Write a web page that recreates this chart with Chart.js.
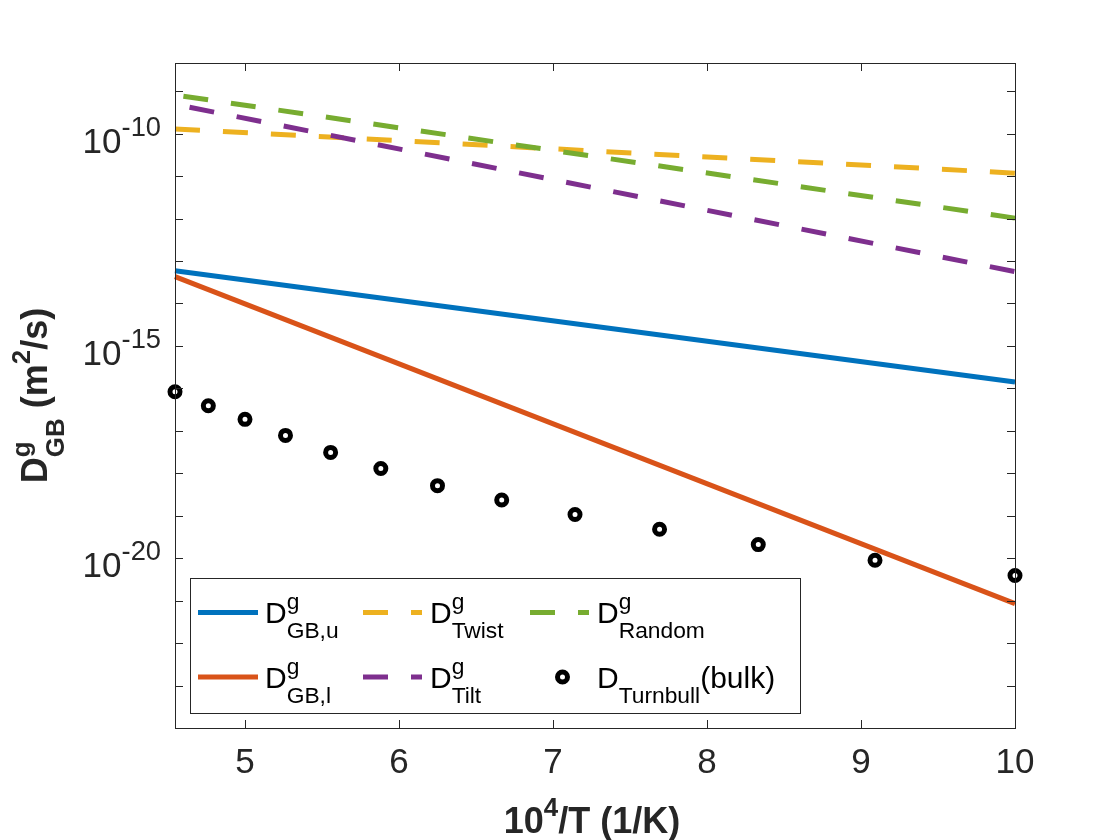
<!DOCTYPE html>
<html>
<head>
<meta charset="utf-8">
<script src="https://cdn.jsdelivr.net/npm/chart.js@4.4.0/dist/chart.umd.min.js"></script>
<style>
    html, body { margin: 0; padding: 0; background: #fff; }
    #wrap { width: 1120px; height: 840px; }
</style>
</head>
<body>
<div id="wrap"><canvas id="chart" width="1120" height="840"></canvas></div>
<script>
// axis ranges and ticks
const X_MIN = 4.5455;
const X_MAX = 10;
const Y_MIN = 1e-24;
const Y_MAX = 4.6e-9;
const X_TICKS = [5, 6, 7, 8, 9, 10];
const Y_TICK_EXP = [-24, -23, -22, -21, -20, -19, -18, -17, -16, -15, -14, -13, -12, -11, -10, -9];
const Y_LABEL_EXP = [-10, -15, -20];

// Arrhenius lines (end points), x = 10^4/T
const gbUpperX = [4.5455, 10];
const gbUpperY = [5.9e-14, 1.41e-16];
const gbLowerX = [4.5455, 10];
const gbLowerY = [4.27e-14, 8.5e-22];
const twistX = [4.5455, 10];
const twistY = [1.29e-10, 1.17e-11];
const randomX = [4.6, 10];
const randomY = [7.6e-10, 1.02e-12];
const tiltX = [4.64, 10];
const tiltY = [4.17e-10, 5.6e-14];

// Turnbull bulk values
const turnbullX = [4.5455, 4.762, 5.0, 5.263, 5.556, 5.882, 6.25, 6.667, 7.143, 7.692, 8.333, 9.091, 10];
const turnbullY = [8.3e-17, 3.9e-17, 1.86e-17, 7.8e-18, 3.1e-18, 1.29e-18, 5.1e-19, 2.34e-19, 1.07e-19, 4.8e-20, 2.09e-20, 8.9e-21, 3.9e-21];

const COLORS = {
    blue: '#0072BD',
    orange: '#D95319',
    yellow: '#EDB120',
    purple: '#7E2F8E',
    green: '#77AC30',
    axis: '#262626'
};

const FONT = '"Liberation Sans", Arial, Helvetica, sans-serif';

const toPoints = (xs, ys) => xs.map((x, i) => ({ x, y: ys[i] }));

// plotting order as in the original figure
const series = [
    { label: 'D GB,u', x: gbUpperX, y: gbUpperY, color: COLORS.blue, dash: [] },
    { label: 'D Twist', x: twistX, y: twistY, color: COLORS.yellow, dash: [25, 23] },
    { label: 'D Random', x: randomX, y: randomY, color: COLORS.green, dash: [25, 23] },
    { label: 'D GB,l', x: gbLowerX, y: gbLowerY, color: COLORS.orange, dash: [] },
    { label: 'D Tilt', x: tiltX, y: tiltY, color: COLORS.purple, dash: [25, 23] }
];

const datasets = series.map((s, i) => ({
    label: s.label,
    data: toPoints(s.x, s.y),
    showLine: true,
    borderColor: s.color,
    borderWidth: 5,
    borderDash: s.dash,
    borderCapStyle: 'butt',
    pointRadius: 0,
    fill: false,
    clip: false,
    order: 10 - i
}));

datasets.push({
    label: 'D Turnbull (bulk)',
    data: toPoints(turnbullX, turnbullY),
    showLine: false,
    pointStyle: 'circle',
    pointRadius: 5,
    pointBorderWidth: 5,
    pointBackgroundColor: '#ffffff',
    pointBorderColor: '#000000',
    clip: false,
    order: 0
});

// legend entries: [column, row, dataset index, rich text parts]
const LEGEND_ITEMS = [
    [0, 0, 0, ['D', { sup: 'g', sub: 'GB,u' }]],
    [1, 0, 1, ['D', { sup: 'g', sub: 'Twist' }]],
    [2, 0, 2, ['D', { sup: 'g', sub: 'Random' }]],
    [0, 1, 3, ['D', { sup: 'g', sub: 'GB,l' }]],
    [1, 1, 4, ['D', { sup: 'g', sub: 'Tilt' }]],
    [2, 1, 5, ['D', { sub: 'Turnbull' }, '(bulk)']]
];

function partsWidth(ctx, parts, st) {
    let w = 0;
    parts.forEach(p => {
        if (typeof p === 'string') {
            ctx.font = `${st.weight} ${st.size}px ${FONT}`;
            w += ctx.measureText(p).width;
        } else {
            ctx.font = `${st.weight} ${st.size * st.ratio}px ${FONT}`;
            const a = p.sup ? ctx.measureText(p.sup).width : 0;
            const b = p.sub ? ctx.measureText(p.sub).width : 0;
            w += Math.max(a, b);
        }
    });
    return w;
}

// st: { size, weight, ratio, sup, sub, color }
function drawParts(ctx, parts, x, y, st, align) {
    const total = partsWidth(ctx, parts, st);
    let cx = align === 'center' ? x - total / 2 : align === 'right' ? x - total : x;
    ctx.fillStyle = st.color;
    ctx.textAlign = 'left';
    ctx.textBaseline = 'alphabetic';
    parts.forEach(p => {
        if (typeof p === 'string') {
            ctx.font = `${st.weight} ${st.size}px ${FONT}`;
            ctx.fillText(p, cx, y);
            cx += ctx.measureText(p).width;
        } else {
            ctx.font = `${st.weight} ${st.size * st.ratio}px ${FONT}`;
            let w = 0;
            if (p.sup) {
                ctx.fillText(p.sup, cx, y - st.sup);
                w = ctx.measureText(p.sup).width;
            }
            if (p.sub) {
                ctx.fillText(p.sub, cx, y + st.sub);
                w = Math.max(w, ctx.measureText(p.sub).width);
            }
            cx += w;
        }
    });
}

const TICK_STYLE = { size: 35, weight: 'normal', ratio: 0.78, sup: 17, sub: 0, color: COLORS.axis };
const TITLE_STYLE = { size: 36, weight: 'bold', ratio: 0.72, sup: 17, sub: 17, color: COLORS.axis };
const LEGEND_STYLE = { size: 30, weight: 'normal', ratio: 0.76, sup: 14, sub: 15, color: '#000' };

const axesPlugin = {
    id: 'matlabAxes',
    afterDatasetsDraw(chart) {
        const { ctx, chartArea: a, scales } = chart;
        const xs = scales.x, ys = scales.y;
        const tl = 8;
        ctx.save();
        ctx.strokeStyle = COLORS.axis;
        ctx.lineWidth = 1;
        ctx.beginPath();
        X_TICKS.forEach(v => {
            const px = Math.round(xs.getPixelForValue(v)) + 0.5;
            ctx.moveTo(px, a.bottom); ctx.lineTo(px, a.bottom - tl);
            ctx.moveTo(px, a.top); ctx.lineTo(px, a.top + tl);
        });
        Y_TICK_EXP.forEach(e => {
            const py = Math.round(ys.getPixelForValue(Math.pow(10, e))) + 0.5;
            ctx.moveTo(a.left, py); ctx.lineTo(a.left + tl, py);
            ctx.moveTo(a.right, py); ctx.lineTo(a.right - tl, py);
        });
        ctx.stroke();
        ctx.strokeRect(Math.round(a.left) + 0.5, Math.round(a.top) + 0.5,
            Math.round(a.right - a.left), Math.round(a.bottom - a.top));

        // tick labels
        X_TICKS.forEach(v => {
            drawParts(ctx, [String(v)], xs.getPixelForValue(v), a.bottom + 45, TICK_STYLE, 'center');
        });
        Y_LABEL_EXP.forEach(e => {
            const py = ys.getPixelForValue(Math.pow(10, e));
            drawParts(ctx, ['10', { sup: String(e) }], a.left - 14, py + 19, TICK_STYLE, 'right');
        });

        // axis titles
        const midX = (a.left + a.right) / 2 - 3;
        drawParts(ctx, ['10', { sup: '4' }, '/T (1/K)'], midX, 833, TITLE_STYLE, 'center');
        ctx.save();
        ctx.translate(47, (a.top + a.bottom) / 2);
        ctx.rotate(-Math.PI / 2);
        drawParts(ctx, ['D', { sup: 'g', sub: 'GB' }, ' (m', { sup: '2' }, '/s)'], 0, 0, TITLE_STYLE, 'center');
        ctx.restore();
        ctx.restore();
    },
    afterDraw(chart) {
        const { ctx } = chart;
        const box = { x: 190, y: 578, w: 610, h: 135 };
        const rowY = [612.5, 677];
        const lineX = [[198, 258], [363, 422], [530, 589]];
        const textX = [265, 430, 597];
        ctx.save();
        ctx.fillStyle = '#fff';
        ctx.fillRect(box.x, box.y, box.w, box.h);
        ctx.strokeStyle = COLORS.axis;
        ctx.lineWidth = 1;
        ctx.strokeRect(box.x + 0.5, box.y + 0.5, box.w, box.h);

        LEGEND_ITEMS.forEach(([col, row, di, parts]) => {
            const ds = chart.data.datasets[di];
            const y = rowY[row];
            const [x0, x1] = lineX[col];
            if (ds.showLine) {
                ctx.save();
                ctx.strokeStyle = ds.borderColor;
                ctx.lineWidth = 5;
                ctx.setLineDash(ds.borderDash || []);
                ctx.beginPath();
                ctx.moveTo(x0, y); ctx.lineTo(x1, y);
                ctx.stroke();
                ctx.restore();
            } else {
                ctx.save();
                ctx.beginPath();
                ctx.arc((x0 + x1) / 2 + 3, y, ds.pointRadius, 0, Math.PI * 2);
                ctx.fillStyle = ds.pointBackgroundColor;
                ctx.fill();
                ctx.lineWidth = ds.pointBorderWidth;
                ctx.strokeStyle = ds.pointBorderColor;
                ctx.stroke();
                ctx.restore();
            }
            drawParts(ctx, parts, textX[col], y + 10.5, LEGEND_STYLE, 'left');
        });
        ctx.restore();
    }
};

new Chart(document.getElementById('chart'), {
    type: 'scatter',
    data: { datasets },
    options: {
        responsive: false,
        animation: false,
        layout: { padding: { left: 175, top: 63, right: 105, bottom: 112 } },
        scales: {
            x: { type: 'linear', min: X_MIN, max: X_MAX, display: false },
            y: { type: 'logarithmic', min: Y_MIN, max: Y_MAX, display: false }
        },
        plugins: {
            legend: { display: false },
            tooltip: { enabled: false }
        }
    },
    plugins: [axesPlugin]
});
</script>
</body>
</html>
